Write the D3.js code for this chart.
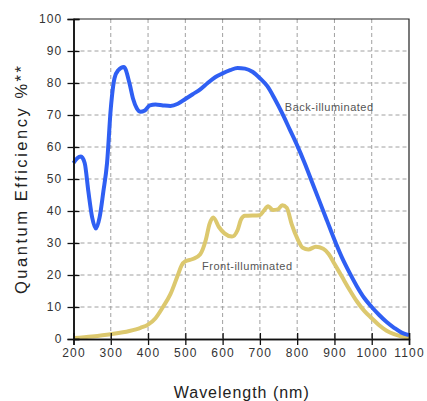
<!DOCTYPE html>
<html lang="en">
    <head>
        <meta charset="utf-8">
        <title>Quantum Efficiency</title>
        <style>
        body { margin:0; background:#ffffff; }
        text { font-family: Arial, "Liberation Sans", Helvetica, sans-serif; }
        .tick text { fill:#333333; font-size:12px; letter-spacing:1.2px; }
        .grid line { stroke:#a0a0a0; stroke-dasharray:4,3; }
        </style>
        <script src="https://cdn.jsdelivr.net/npm/d3@7"></script>
    </head>
    <body>
        <svg id="paper" width="427" height="401"></svg>
        <script>
        // back-illuminated curve (nm, %)
        var backNm  = [200,210,220,230,240,250,260,270,280,290,300,310,320,335,350,360,370,380,390,405,420,440,460,480,500,520,540,560,580,600,620,640,660,680,700,720,740,760,780,800,820,840,860,880,900,920,940,960,980,1000,1020,1040,1060,1080,1100];
        var backQE  = [55,56.5,57,55,46,38,34.5,38,46,55,72,81.5,84,85,80,75,72,71,71.3,73,73.3,73,72.8,73.5,75,76.5,78,80,81.8,83,84,84.7,84.5,83.5,81.5,79,75,70.5,65.5,60.5,55,49,43,37,31,25.5,20.8,16.5,12.8,10,7.5,5.3,3.5,2,1.2];
        // front-illuminated curve (nm, %)
        var frontNm = [200,250,300,350,380,400,420,440,460,480,490,500,520,540,555,565,575,590,605,625,640,650,660,700,710,722,735,748,760,772,785,800,815,830,850,870,885,900,920,940,960,980,1000,1020,1040,1060,1080,1100];
        var frontQE = [0.3,0.8,1.5,2.5,3.5,4.5,6.5,10,14,20,23,24.3,25,26.5,31,36,38,35,33,32,34,37.5,38.5,38.7,40,41.5,40.3,40.5,41.8,41,36,31.5,28.5,28,28.8,28.2,26.5,23.5,19.5,15.5,11.8,8.8,6.5,4.3,2.6,1.5,0.8,0.5];

        var xTicks = [200,300,400,500,600,700,800,900,1000,1100];
        var yTicks = [0,10,20,30,40,50,60,70,80,90,100];

        var margin = {left:73.5, top:19, right:18, bottom:62};
        var w = 427 - margin.left - margin.right;
        var h = 401 - margin.top - margin.bottom;

        var svg = d3.select("#paper");
        var g = svg.append("g").attr("transform","translate("+margin.left+","+margin.top+")");

        var xScale = d3.scaleLinear().domain([200,1100]).range([0,w]);
        var yScale = d3.scaleLinear().domain([0,100]).range([h,0]);

        // dashed grid
        g.append("g").attr("class","grid")
            .selectAll("line").data(xTicks.slice(1,-1)).enter().append("line")
            .attr("x1",function(d){ return xScale(d); })
            .attr("x2",function(d){ return xScale(d); })
            .attr("y1",0).attr("y2",h);
        g.append("g").attr("class","grid")
            .selectAll("line").data(yTicks.slice(1,-1)).enter().append("line")
            .attr("y1",function(d){ return yScale(d); })
            .attr("y2",function(d){ return yScale(d); })
            .attr("x1",0).attr("x2",w);

        // frame top + right
        g.append("path").attr("d","M0,0H"+w+"V"+h)
            .attr("fill","none").attr("stroke","#222").attr("stroke-width",1.2);

        var line = d3.line()
            .x(function(d){ return xScale(d[0]); })
            .y(function(d){ return yScale(d[1]); })
            .curve(d3.curveMonotoneX);

        g.append("path").datum(d3.zip(frontNm,frontQE))
            .attr("d",line).attr("fill","none")
            .attr("stroke","#dcc86e").attr("stroke-width",4).attr("stroke-linejoin","round");
        g.append("path").datum(d3.zip(backNm,backQE))
            .attr("d",line).attr("fill","none")
            .attr("stroke","#2f5ff3").attr("stroke-width",4).attr("stroke-linejoin","round");

        // axes, ticks cross the axis line
        var xAxis = d3.axisBottom(xScale).tickValues(xTicks).tickSize(6).tickPadding(3).tickFormat(d3.format("d"));
        var xAxisIn = d3.axisTop(xScale).tickValues(xTicks).tickSize(6).tickFormat("");
        var yAxis = d3.axisLeft(yScale).tickValues(yTicks).tickSize(6).tickPadding(5);
        var yAxisIn = d3.axisRight(yScale).tickValues(yTicks).tickSize(6).tickFormat("");

        g.append("g").attr("transform","translate(0,"+h+")").call(xAxis);
        g.append("g").attr("transform","translate(0,"+h+")").call(xAxisIn);
        g.append("g").call(yAxis);
        g.append("g").call(yAxisIn);
        g.selectAll(".domain").attr("stroke","#111").attr("stroke-width",1.5);
        g.selectAll(".tick line").attr("stroke","#111").attr("stroke-width",1.3);
        g.selectAll(".tick text").attr("font-family",null);

        // curve labels
        g.append("text").attr("x",xScale(767)).attr("y",yScale(71.3))
            .attr("font-size",11).attr("fill","#555").style("letter-spacing","0.5px")
            .text("Back-illuminated");
        g.append("text").attr("x",xScale(545)).attr("y",yScale(21.5))
            .attr("font-size",11).attr("fill","#555").style("letter-spacing","0.5px")
            .text("Front-illuminated");

        // axis titles
        svg.append("text").attr("x",margin.left+w/2).attr("y",398)
            .attr("text-anchor","middle").attr("font-size",16).attr("fill","#222")
            .attr("textLength",135).attr("lengthAdjust","spacing")
            .text("Wavelength (nm)");
        svg.append("text").attr("transform","translate(27,180) rotate(-90)")
            .attr("text-anchor","middle").attr("font-size",16.5).attr("fill","#222")
            .attr("textLength",228).attr("lengthAdjust","spacing")
            .text("Quantum Efficiency %**");
        </script>
    </body>
</html>
